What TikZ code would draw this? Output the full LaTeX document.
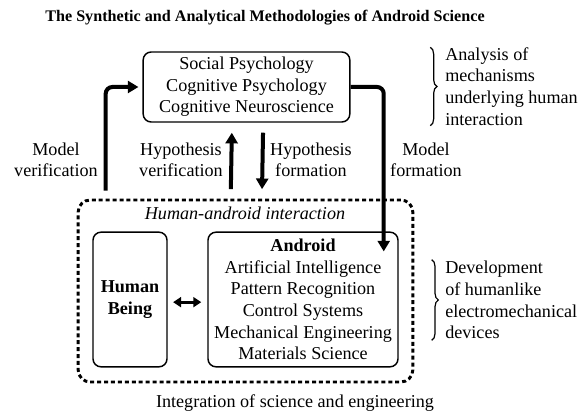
\documentclass[tikz,border=0pt]{standalone}
\usepackage{fontspec}
\setmainfont{Liberation Serif}
\usepackage{tikz}
\usetikzlibrary{arrows.meta,positioning,decorations.pathreplacing}
\tikzstyle{arrow} = [line width=3pt, -{Triangle[length=8pt,width=9pt]}, color=black]
\tikzstyle{dblarrow} = [line width=2.2pt, {Triangle[length=6pt,width=7.5pt]}-{Triangle[length=6pt,width=7.5pt]}]
\tikzstyle{fieldbox} = [rectangle, rounded corners=6pt, draw, line width=1.1pt, align=center, inner sep=0pt]
\tikzstyle{groupbox} = [rectangle, rounded corners=9pt, draw, line width=2.2pt, dash pattern=on 3pt off 2.2pt]
\tikzstyle{brace} = [decorate, decoration={brace, amplitude=5pt}, line width=0.9pt]
\tikzstyle{txt} = [align=center, inner sep=0pt, font=\fontsize{13.6}{16.2}\selectfont]

\begin{document}
\begin{tikzpicture}[x=0.75pt, y=-0.75pt, every node/.style={font=\fontsize{13.6}{16.2}\selectfont}]
\useasboundingbox (0,0) rectangle (586,416);

% Title
\node[inner sep=0pt, font=\fontsize{12.1}{15}\selectfont\bfseries] (title) at (265,18)
  {The Synthetic and Analytical Methodologies of Android Science};

% Sciences box
\node[fieldbox, minimum width=155pt, minimum height=52.5pt] (sci) at (246.5,87)
  {Social Psychology\\Cognitive Psychology\\Cognitive Neuroscience};

% Interaction area
\node[groupbox, minimum width=251pt, minimum height=136.5pt] (hai) at (245.5,291) {};
\node[txt, font=\fontsize{13.6}{16.2}\selectfont\itshape] (haitxt) at (245,213) {Human-android interaction};
\node[fieldbox, minimum width=55.5pt, minimum height=101pt, font=\fontsize{13.6}{16.2}\selectfont\bfseries] (hb) at (130,299.5)
  {Human\\Being};
\node[fieldbox, minimum width=142.5pt, minimum height=101pt] (and) at (303,299.5)
  {\textbf{Android}\\Artificial Intelligence\\Pattern Recognition\\Control Systems\\Mechanical Engineering\\Materials Science};

% Labels
\node[txt] (mver) at (56,160) {Model\\verification};
\node[txt] (hver) at (181,160) {Hypothesis\\verification};
\node[txt] (hform) at (311,160) {Hypothesis\\formation};
\node[txt] (mform) at (426,160) {Model\\formation};
\node[txt] (integ) at (295,403) {Integration of science and engineering};

% Side notes
\node[txt, align=left, anchor=west] (ana) at (445,86.5)
  {Analysis of\\mechanisms\\underlying human\\interaction};
\node[txt, align=left, anchor=west] (dev) at (445,300)
  {Development\\of humanlike\\electromechanical\\devices};
\draw[brace] ([xshift=-11pt]ana.north west) -- ([xshift=-11pt]ana.south west);
\draw[brace] ([xshift=-10pt,yshift=1pt]dev.north west) -- ([xshift=-10pt,yshift=-1pt]dev.south west);

% Arrows
\draw[arrow, rounded corners=5pt, shorten >=3pt] ([xshift=21.75pt,yshift=6pt]hai.north west) |- (sci.west);
\draw[arrow, rounded corners=5pt] (sci.east) -| ([xshift=-11.25pt,yshift=-15pt]and.north east);
\draw[arrow] ([xshift=-11pt,yshift=7pt]hai.north) -- ([xshift=-11pt,yshift=-7.5pt]sci.south);
\draw[arrow] ([xshift=12.4pt,yshift=-7.5pt]sci.south) -- ([xshift=12.4pt,yshift=7pt]hai.north);
\draw[dblarrow] ([xshift=4pt,yshift=-2pt]hb.east) -- ([xshift=-4.5pt,yshift=-2pt]and.west);
\end{tikzpicture}
\end{document}
